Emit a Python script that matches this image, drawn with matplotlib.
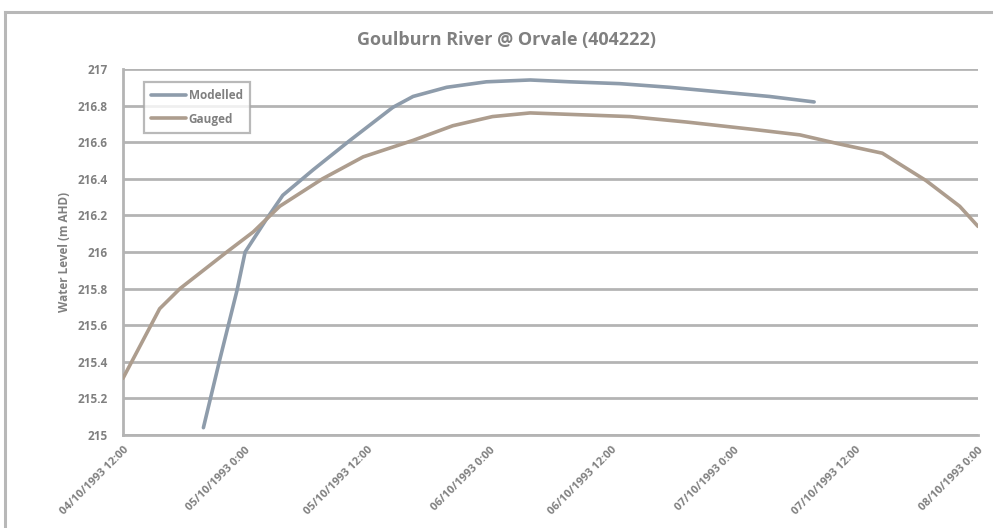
import matplotlib
matplotlib.use("Agg")
import matplotlib.pyplot as plt
from matplotlib.lines import Line2D

# ---- data (hours from 04/10/1993 12:00, water level m AHD) ----
gauged_hours = [0.0, 3.6, 5.6, 10.2, 12.8, 15.4, 19.6, 23.6, 28.5, 32.4, 36.3,
                40.0, 49.8, 55.4, 61.9, 66.5, 70.4, 74.6, 78.9, 82.2, 84.0]
gauged_level = [215.31, 215.69, 215.80, 216.00, 216.11, 216.25, 216.40, 216.52,
                216.61, 216.69, 216.74, 216.76, 216.74, 216.71, 216.67, 216.64,
                216.59, 216.54, 216.39, 216.25, 216.14]

modelled_hours = [7.9, 9.5, 11.2, 12.0, 14.1, 15.7, 18.7, 22.3, 26.5, 28.5, 31.8,
                  35.7, 40.0, 43.9, 48.8, 53.7, 58.6, 63.5, 67.9]
modelled_level = [215.04, 215.41, 215.79, 216.00, 216.18, 216.31, 216.45, 216.61,
                  216.79, 216.85, 216.90, 216.93, 216.94, 216.93, 216.92, 216.90,
                  216.875, 216.85, 216.82]

x_tick_hours = [0, 12, 24, 36, 48, 60, 72, 84]
x_tick_labels = ["04/10/1993 12:00", "05/10/1993 0:00", "05/10/1993 12:00",
                 "06/10/1993 0:00", "06/10/1993 12:00", "07/10/1993 0:00",
                 "07/10/1993 12:00", "08/10/1993 0:00"]
y_ticks = [215, 215.2, 215.4, 215.6, 215.8, 216, 216.2, 216.4, 216.6, 216.8, 217]
y_tick_labels = ["215", "215.2", "215.4", "215.6", "215.8", "216", "216.2",
                 "216.4", "216.6", "216.8", "217"]

title = "Goulburn River @ Orvale (404222)"
ylabel = "Water Level (m AHD)"

# ---- styling ----
plt.rcParams['font.family'] = ['Open Sans', 'DejaVu Sans']
txt = '#808080'
grid_c = '#b4b4b4'
col_mod = '#8e9cab'
col_gau = '#ad9d8e'

fig = plt.figure(figsize=(9.93, 5.28), dpi=100)
ax = fig.add_axes([123/993, 1-435/528, (978-123)/993, (435-69)/528])

# chart-area frame (left and top visible)
fig.add_artist(Line2D([5/993, 5/993], [0, 1-12/528], transform=fig.transFigure,
                      color='#b8b8b8', lw=2.2))
fig.add_artist(Line2D([5/993, 1], [1-12/528, 1-12/528], transform=fig.transFigure,
                      color='#b8b8b8', lw=2.2))

ax.plot(modelled_hours, modelled_level, color=col_mod, lw=2.6, label='Modelled',
        solid_capstyle='round', zorder=3)
ax.plot(gauged_hours, gauged_level, color=col_gau, lw=2.6, label='Gauged',
        solid_capstyle='round', zorder=3)

ax.set_xlim(0, 84)
ax.set_ylim(215, 217)
ax.set_yticks(y_ticks)
ax.set_yticklabels(y_tick_labels)
ax.set_xticks(x_tick_hours)
ax.set_xticklabels(x_tick_labels, rotation=45, ha='right', rotation_mode='anchor')

ax.yaxis.grid(True, color=grid_c, lw=2.0)
ax.set_axisbelow(True)
for s in ['top', 'right']:
    ax.spines[s].set_visible(False)
for s in ['left', 'bottom']:
    ax.spines[s].set_color(grid_c)
    ax.spines[s].set_linewidth(2.0)
ax.tick_params(axis='both', length=0, colors=txt)
ax.tick_params(axis='y', pad=11, labelsize=8.5)
ax.tick_params(axis='x', pad=7, labelsize=8)
for lab in ax.get_xticklabels() + ax.get_yticklabels():
    lab.set_fontweight('bold')

ax.set_ylabel(ylabel, color=txt, fontsize=8.5, fontweight='bold', labelpad=5)
fig.text(507/993, 1-40/528, title, ha='center', va='center', color=txt,
         fontsize=13, fontweight='bold')

leg = ax.legend(loc='upper left', bbox_to_anchor=(15/855, 1-7/366), frameon=True,
                fancybox=False, edgecolor='#a8a8a8', fontsize=8.5,
                handlelength=3.0, borderpad=0.6, labelspacing=0.9,
                handletextpad=0.2)
leg.get_frame().set_linewidth(1.6)
for t in leg.get_texts():
    t.set_color(txt)
    t.set_fontweight('bold')

fig.savefig('out.png', dpi=100, facecolor='white')
